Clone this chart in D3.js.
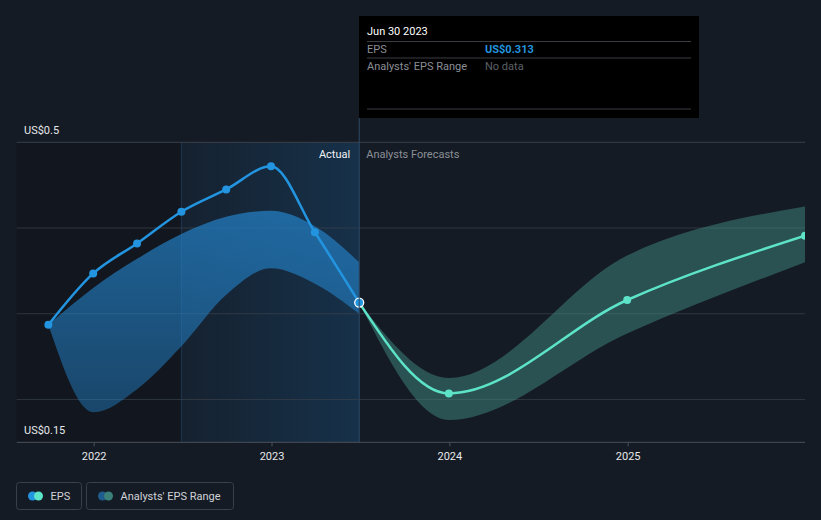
<!DOCTYPE html>
<html>
<head>
<meta charset="utf-8">
<script src="https://cdn.jsdelivr.net/npm/d3@7"></script>
<style>
  html, body { margin: 0; padding: 0; background: #151b25; }
  svg { display: block; font-family: Roboto, "Noto Sans", sans-serif; }
</style>
</head>
<body>
<svg id="chart" width="821" height="520"></svg>
<script>
// ---- data ----
const actualDates = ["2021-09-30","2021-12-31","2022-03-31","2022-06-30","2022-09-30","2022-12-31","2023-03-31","2023-06-30"];
const actualEps   = [0.287, 0.347, 0.382, 0.419, 0.445, 0.472, 0.395, 0.313];
const pastRangeLow  = [0.287, 0.185, 0.212, 0.262, 0.322, 0.353, 0.335, 0.300];
const pastRangeHigh = [0.287, 0.330, 0.364, 0.393, 0.413, 0.420, 0.402, 0.360];

const forecastDates = ["2023-06-30","2023-12-31","2024-12-31","2025-12-31"];
const forecastEps   = [0.313, 0.207, 0.316, 0.391];
const forecastLow   = [0.313, 0.176, 0.277, 0.360];
const forecastHigh  = [0.313, 0.225, 0.368, 0.425];

const yTickValues = [0.15, 0.5];
const yTickLabels = ["US$0.15", "US$0.5"];
const gridValues  = [0.2, 0.3, 0.4, 0.5];
const xTickYears  = ["2022", "2023", "2024", "2025"];

const tooltipDate = "Jun 30 2023";
const tooltipEps = "US$0.313";

// ---- setup ----
const parse = d3.timeParse("%Y-%m-%d");
const svg = d3.select("#chart");
const W = 821, H = 520;
const pLeft = 16.7, pRight = 805, pTop = 142.3, pBottom = 442.3;

const x = d3.scaleTime()
  .domain([parse("2021-07-27"), parse("2025-12-31")])
  .range([pLeft, pRight]);
const y = d3.scaleLinear().domain([0.15, 0.5]).range([pBottom, pTop]);

const defs = svg.append("defs");
defs.append("clipPath").attr("id", "plotclip")
  .append("rect").attr("x", pLeft).attr("y", 0).attr("width", pRight - pLeft).attr("height", pBottom);

const gActualBg = defs.append("linearGradient").attr("id", "actualBg")
  .attr("x1", "0").attr("x2", "1").attr("y1", "0").attr("y2", "0");
gActualBg.append("stop").attr("offset", "0%").attr("stop-color", "#1a6aa8").attr("stop-opacity", 0.08);
gActualBg.append("stop").attr("offset", "100%").attr("stop-color", "#1a6aa8").attr("stop-opacity", 0.28);

const gPast = defs.append("linearGradient").attr("id", "pastBand")
  .attr("x1", "0").attr("x2", "0").attr("y1", "0").attr("y2", "1");
gPast.append("stop").attr("offset", "0%").attr("stop-color", "#2380c6").attr("stop-opacity", 0.72);
gPast.append("stop").attr("offset", "100%").attr("stop-color", "#2380c6").attr("stop-opacity", 0.45);

// background
svg.append("rect").attr("width", W).attr("height", H).attr("fill", "#151b25");

// past (dark) region
const actualStart = parse("2022-06-30");
const nowDate = parse("2023-06-30");
svg.append("rect")
  .attr("x", pLeft).attr("y", pTop)
  .attr("width", x(actualStart) - pLeft).attr("height", pBottom - pTop)
  .attr("fill", "#12161e").attr("opacity", 0.85);
svg.append("rect")
  .attr("x", x(actualStart)).attr("y", pTop)
  .attr("width", x(nowDate) - x(actualStart)).attr("height", pBottom - pTop)
  .attr("fill", "url(#actualBg)");
svg.append("line")
  .attr("x1", x(actualStart)).attr("x2", x(actualStart))
  .attr("y1", pTop).attr("y2", pBottom)
  .attr("stroke", "#1f3550").attr("stroke-width", 1);

// gridlines
svg.append("g").selectAll("line").data(gridValues).join("line")
  .attr("x1", pLeft).attr("x2", pRight)
  .attr("y1", d => y(d)).attr("y2", d => y(d))
  .attr("stroke", "#3a404a").attr("stroke-width", 1).attr("opacity", d => d === 0.5 ? 1 : 0.75);

// x axis
const xAxis = d3.axisBottom(x)
  .tickValues(xTickYears.map(v => parse(v + "-01-01")))
  .tickFormat(d3.timeFormat("%Y"))
  .tickSize(4).tickPadding(6);
const gx = svg.append("g").attr("transform", `translate(0,${pBottom})`).call(xAxis);
gx.select(".domain").attr("stroke", "#4a505a").attr("d", `M${pLeft},0H${pRight}`);
gx.selectAll(".tick line").attr("stroke", "#4a505a");
gx.selectAll(".tick text").attr("fill", "#e6e8ea").attr("font-size", 11).attr("font-family", "Roboto, sans-serif");

// y labels
svg.append("g").selectAll("text").data(yTickValues).join("text")
  .attr("x", 24)
  .attr("y", d => y(d) - 8)
  .attr("fill", "#e6e8ea").attr("font-size", 11)
  .text((d, i) => yTickLabels[i]);

const plot = svg.append("g").attr("clip-path", "url(#plotclip)");

// data objects
const past = actualDates.map((d, i) => ({ date: parse(d), v: actualEps[i], lo: pastRangeLow[i], hi: pastRangeHigh[i] }));
const fut = forecastDates.map((d, i) => ({ date: parse(d), v: forecastEps[i], lo: forecastLow[i], hi: forecastHigh[i] }));

const curve = d3.curveMonotoneX;
const area = d3.area().x(d => x(d.date)).y0(d => y(d.lo)).y1(d => y(d.hi)).curve(curve);
const line = d3.line().x(d => x(d.date)).y(d => y(d.v)).curve(curve);

plot.append("path").datum(past).attr("d", area).attr("fill", "url(#pastBand)");
plot.append("path").datum(fut).attr("d", area).attr("fill", "#3f8a82").attr("opacity", 0.5);

// hover line
svg.append("line")
  .attr("x1", x(nowDate)).attr("x2", x(nowDate))
  .attr("y1", 118).attr("y2", pBottom)
  .attr("stroke", "#2d4a66").attr("stroke-width", 1);

plot.append("path").datum(fut).attr("d", line)
  .attr("fill", "none").attr("stroke", "#5de3c8").attr("stroke-width", 2.5);
plot.append("path").datum(past).attr("d", line)
  .attr("fill", "none").attr("stroke", "#2394df").attr("stroke-width", 2.5);

plot.append("g").selectAll("circle").data(fut.slice(1)).join("circle")
  .attr("cx", d => x(d.date)).attr("cy", d => y(d.v)).attr("r", 4)
  .attr("fill", "#5de3c8");
plot.append("g").selectAll("circle").data(past.slice(0, -1)).join("circle")
  .attr("cx", d => x(d.date)).attr("cy", d => y(d.v)).attr("r", 4)
  .attr("fill", "#2394df");
const last = past[past.length - 1];
plot.append("circle")
  .attr("cx", x(last.date)).attr("cy", y(last.v)).attr("r", 4.5)
  .attr("fill", "#2394df").attr("stroke", "#ffffff").attr("stroke-width", 1.3);

// region labels
svg.append("text").attr("x", x(nowDate) - 9).attr("y", pTop + 16)
  .attr("text-anchor", "end").attr("fill", "#f0f2f4").attr("font-size", 11).text("Actual");
svg.append("text").attr("x", x(nowDate) + 7).attr("y", pTop + 16)
  .attr("fill", "#8a8f96").attr("font-size", 11).text("Analysts Forecasts");

// tooltip
const tt = svg.append("g").attr("transform", "translate(359,16)");
tt.append("rect").attr("width", 340).attr("height", 102).attr("fill", "#000000");
tt.append("text").attr("x", 8).attr("y", 19).attr("fill", "#ffffff").attr("font-size", 11).text(tooltipDate);
[25.5, 42, 93].forEach(yy => tt.append("line").attr("x1", 8).attr("x2", 332)
  .attr("y1", yy).attr("y2", yy).attr("stroke", "#3a3d42").attr("stroke-width", 1));
tt.append("text").attr("x", 8).attr("y", 37).attr("fill", "#8a8f96").attr("font-size", 11).text("EPS");
tt.append("text").attr("x", 126).attr("y", 37).attr("fill", "#2394df").attr("font-size", 11).attr("font-weight", "bold").text(tooltipEps);
tt.append("text").attr("x", 8).attr("y", 54).attr("fill", "#8a8f96").attr("font-size", 11).text("Analysts' EPS Range");
tt.append("text").attr("x", 126).attr("y", 54).attr("fill", "#5c6067").attr("font-size", 11).text("No data");

// legend
const legend = svg.append("g");
const items = [
  { label: "EPS", x: 16.5, w: 65, c1: "#2394df", c2: "#5de3c8" },
  { label: "Analysts' EPS Range", x: 86.5, w: 147, c1: "#1f5d8f", c2: "#3b8079" }
];
items.forEach(it => {
  const g = legend.append("g").attr("transform", `translate(${it.x},482.5)`);
  g.append("rect").attr("width", it.w).attr("height", 27).attr("rx", 3)
    .attr("fill", "none").attr("stroke", "#3a404a");
  g.append("circle").attr("cx", 16).attr("cy", 13.5).attr("r", 4.5).attr("fill", it.c1);
  g.append("circle").attr("cx", 22).attr("cy", 13.5).attr("r", 4.5).attr("fill", it.c2);
  g.append("text").attr("x", 34).attr("y", 17.5).attr("fill", "#d0d3d7").attr("font-size", 11).text(it.label);
});
</script>
</body>
</html>
